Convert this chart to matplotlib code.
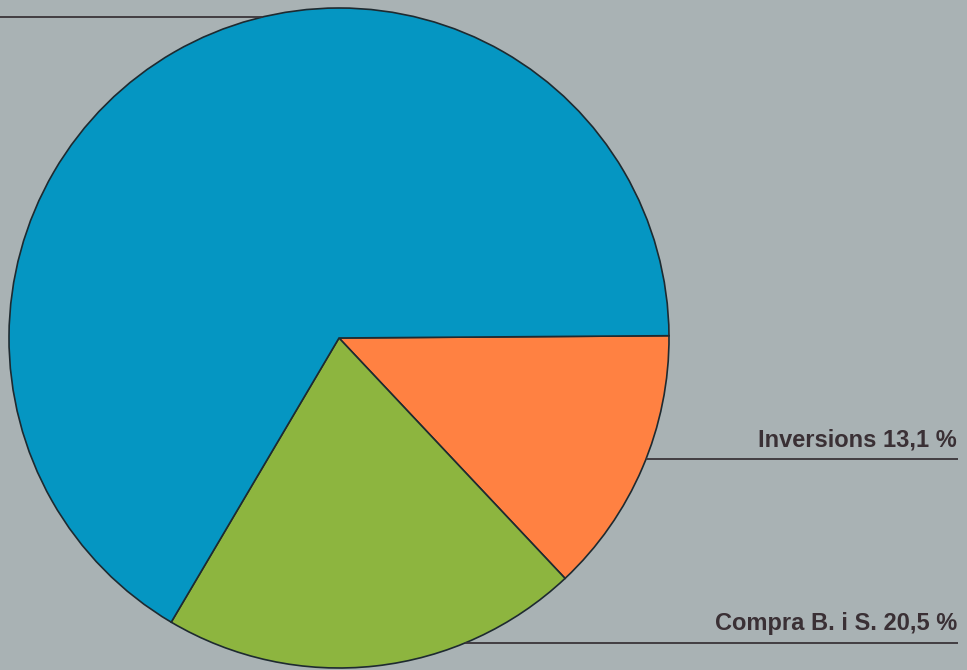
import numpy as np
import matplotlib
matplotlib.use("Agg")
import matplotlib.pyplot as plt

labels = ["Inversions", "Compra B. i S.", ""]
values = [13.1, 20.5, 66.4]
colors = ["#FF8142", "#8DB53F", "#0596C2"]

W, H = 967, 670
fig = plt.figure(figsize=(W / 100, H / 100), dpi=100)
bg = "#A9B2B4"
fig.patch.set_facecolor(bg)
ax = fig.add_axes([0, 0, 1, 1])
ax.set_facecolor(bg)

cx, cy, r = 339, H - 338, 330
ax.pie(values, colors=colors, startangle=0.4, counterclock=False,
       center=(cx, cy), radius=r, frame=True,
       wedgeprops=dict(edgecolor="#1E2A30", linewidth=1.2))
ax.set_xlim(0, W)
ax.set_ylim(0, H)
ax.set_aspect("equal")
ax.axis("off")

line_col = "#3A3438"
# leader lines at given image rows (from top), starting at the pie edge
rows = [459, 643]
for lab, val, row in zip(labels, values, rows):
    y = H - row
    x0 = cx + np.sqrt(r**2 - (y - cy) ** 2)
    ax.plot([x0, 958], [y, y], color=line_col, lw=1.3, solid_capstyle="butt")
    ax.text(957, y + 8, f"{lab} {str(val).replace('.', ',')} %",
            ha="right", va="bottom", fontsize=17, fontweight="bold",
            color="#3A3035", family="Liberation Sans")

# top-left leader (label off page)
y = H - 17
x0 = cx - np.sqrt(r**2 - (y - cy) ** 2)
ax.plot([0, x0], [y, y], color=line_col, lw=1.3)

fig.savefig("out.png", dpi=100, facecolor=bg)
